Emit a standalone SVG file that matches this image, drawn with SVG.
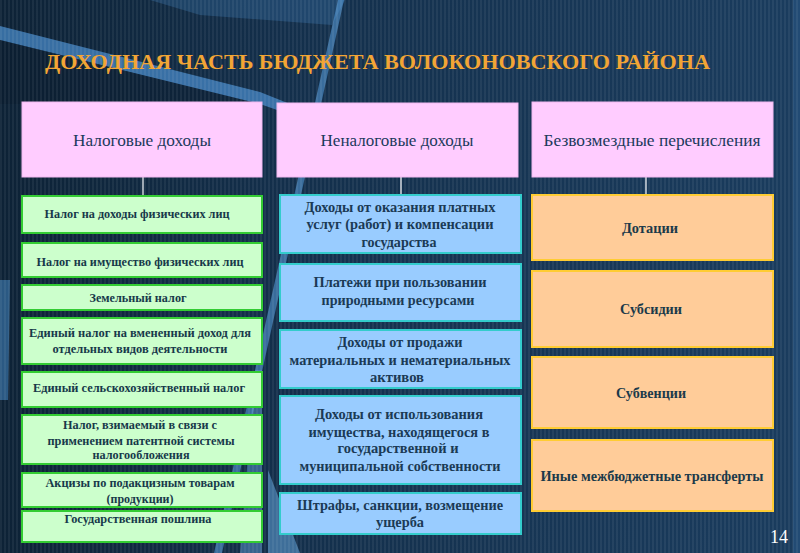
<svg xmlns="http://www.w3.org/2000/svg" width="800" height="553" viewBox="0 0 800 553">
<defs>
<pattern id="stripes" width="4" height="4" patternUnits="userSpaceOnUse">
<rect x="0" y="0" width="2" height="4" fill="#ffffff" opacity="0.06"/>
</pattern>
<linearGradient id="bgGrad" x1="0" y1="0" x2="1" y2="0">
<stop offset="0" stop-color="#0d2236"/>
<stop offset="0.35" stop-color="#132f4b"/>
<stop offset="1" stop-color="#1a3c5e"/>
</linearGradient>
<style>
.hdr{fill:#ffccff;stroke:#f0b8f0;stroke-width:1}
.grn{fill:#ccffcc;stroke:#33cc33;stroke-width:2}
.blu{fill:#99ccff;stroke:#33cccc;stroke-width:2}
.org{fill:#ffcc99;stroke:#ffcc33;stroke-width:2}
.ht{font-family:"Liberation Serif",serif;font-size:16px;fill:#1b3a5c;text-anchor:middle}
.gt{font-family:"Liberation Serif",serif;font-weight:bold;font-size:12.5px;fill:#17394a;text-anchor:middle}
.bt{font-family:"Liberation Serif",serif;font-weight:bold;font-size:14px;fill:#1b3a55;text-anchor:middle}
.ot{font-family:"Liberation Serif",serif;font-weight:bold;font-size:14.5px;fill:#1b3a4a;text-anchor:middle}
.conn{stroke:#ffffff;stroke-width:1.2}
</style>
</defs>
<g id="background">
<rect width="800" height="553" fill="url(#bgGrad)"/>
<polygon points="150,0 345,0 332,25 200,15" fill="#3f7fb8" opacity="0.3"/>
<polygon points="0,26 0,40 260,104 300,118 300,108 260,92" fill="#4a8ed0" opacity="0.7"/>
<polygon points="0,40 260,104 0,104" fill="#0a1a2a" opacity="0.4"/>
<polygon points="338,0 344,0 222,553 214,553" fill="#5aa0e0" opacity="0.55"/>
<polygon points="268,470 300,553 268,553" fill="#6aaee8" opacity="0.5"/>
<polygon points="0,280 10,280 8,400 0,400" fill="#3f7fb8" opacity="0.6"/>
<polygon points="255,370 262,370 262,553 240,553" fill="#5a98d0" opacity="0.5"/>
<rect x="793" y="0" width="7" height="553" fill="#2a5a8a" opacity="0.5"/>
<rect width="800" height="553" fill="url(#stripes)"/>
</g>
<g id="title">
<text x="45" y="69" font-family="Liberation Serif,serif" font-weight="bold" font-size="22" fill="#f2a535" textLength="665" lengthAdjust="spacingAndGlyphs">ДОХОДНАЯ ЧАСТЬ БЮДЖЕТА ВОЛОКОНОВСКОГО РАЙОНА</text>
</g>
<g id="connectors">
<line class="conn" x1="143" y1="177" x2="143" y2="195"/>
<line class="conn" x1="401" y1="177" x2="401" y2="195"/>
<line class="conn" x1="646" y1="177" x2="646" y2="195"/>
</g>
<g id="h-tax"><rect class="hdr" x="22" y="102" width="240" height="75"/><text class="ht" x="142" y="146" textLength="138" lengthAdjust="spacingAndGlyphs">Налоговые доходы</text></g>
<g id="h-nontax"><rect class="hdr" x="277" y="103" width="241" height="74"/><text class="ht" x="397" y="146" textLength="153" lengthAdjust="spacingAndGlyphs">Неналоговые доходы</text></g>
<g id="h-free"><rect class="hdr" x="532" y="102" width="241" height="75"/><text class="ht" x="652" y="146" textLength="217" lengthAdjust="spacingAndGlyphs">Безвозмездные перечисления</text></g>

<g id="t1"><rect class="grn" x="22" y="196" width="240" height="37"/><text class="gt" x="137" y="218" textLength="185" lengthAdjust="spacingAndGlyphs">Налог на доходы физических лиц</text></g>
<g id="t2"><rect class="grn" x="22" y="243" width="240" height="34"/><text class="gt" x="140" y="266" textLength="207" lengthAdjust="spacingAndGlyphs">Налог на имущество физических лиц</text></g>
<g id="t3"><rect class="grn" x="22" y="285" width="240" height="25"/><text class="gt" x="138" y="302" textLength="97" lengthAdjust="spacingAndGlyphs">Земельный налог</text></g>
<g id="t4"><rect class="grn" x="22" y="318" width="240" height="46"/><text class="gt" x="140" y="337" textLength="222" lengthAdjust="spacingAndGlyphs">Единый налог на вмененный доход  для</text><text class="gt" x="140" y="353" textLength="175" lengthAdjust="spacingAndGlyphs">отдельных видов деятельности</text></g>
<g id="t5"><rect class="grn" x="22" y="372" width="240" height="35"/><text class="gt" x="139" y="392" textLength="212" lengthAdjust="spacingAndGlyphs">Единый сельскохозяйственный налог</text></g>
<g id="t6"><rect class="grn" x="22" y="415" width="240" height="49"/><text class="gt" x="140" y="429" textLength="154" lengthAdjust="spacingAndGlyphs">Налог, взимаемый в связи с</text><text class="gt" x="141" y="445" textLength="187" lengthAdjust="spacingAndGlyphs">применением патентной системы</text><text class="gt" x="141" y="459" textLength="97" lengthAdjust="spacingAndGlyphs">налогообложения</text></g>
<g id="t7"><rect class="grn" x="22" y="473" width="240" height="34"/><text class="gt" x="140" y="487" textLength="189" lengthAdjust="spacingAndGlyphs">Акцизы по подакцизным товарам</text><text class="gt" x="140" y="503" textLength="67" lengthAdjust="spacingAndGlyphs">(продукции)</text></g>
<g id="t8"><rect class="grn" x="22" y="511" width="240" height="31"/><text class="gt" x="138" y="523" textLength="147" lengthAdjust="spacingAndGlyphs">Государственная пошлина</text></g>

<g id="n1"><rect class="blu" x="280" y="195" width="241" height="58"/><text class="bt" x="400" y="212" textLength="191" lengthAdjust="spacingAndGlyphs">Доходы от оказания платных</text><text class="bt" x="400" y="229" textLength="187" lengthAdjust="spacingAndGlyphs">услуг (работ) и компенсации</text><text class="bt" x="399" y="247" textLength="75" lengthAdjust="spacingAndGlyphs">государства</text></g>
<g id="n2"><rect class="blu" x="280" y="264" width="241" height="57"/><text class="bt" x="400" y="287" textLength="173" lengthAdjust="spacingAndGlyphs">Платежи при пользовании</text><text class="bt" x="398" y="305" textLength="153" lengthAdjust="spacingAndGlyphs">природными ресурсами</text></g>
<g id="n3"><rect class="blu" x="280" y="330" width="241" height="58"/><text class="bt" x="400" y="347" textLength="125" lengthAdjust="spacingAndGlyphs">Доходы от продажи</text><text class="bt" x="400" y="365" textLength="221" lengthAdjust="spacingAndGlyphs">материальных и нематериальных</text><text class="bt" x="397" y="382" textLength="54" lengthAdjust="spacingAndGlyphs">активов</text></g>
<g id="n4"><rect class="blu" x="280" y="396" width="241" height="88"/><text class="bt" x="399" y="419" textLength="168" lengthAdjust="spacingAndGlyphs">Доходы от использования</text><text class="bt" x="399" y="437" textLength="181" lengthAdjust="spacingAndGlyphs">имущества, находящегося в</text><text class="bt" x="398" y="453" textLength="121" lengthAdjust="spacingAndGlyphs">государственной и</text><text class="bt" x="400" y="471" textLength="201" lengthAdjust="spacingAndGlyphs">муниципальной собственности</text></g>
<g id="n5"><rect class="blu" x="280" y="493" width="241" height="41"/><text class="bt" x="400" y="510" textLength="206" lengthAdjust="spacingAndGlyphs">Штрафы, санкции, возмещение</text><text class="bt" x="400" y="527" textLength="48" lengthAdjust="spacingAndGlyphs">ущерба</text></g>

<g id="f1"><rect class="org" x="532" y="195" width="241" height="65"/><text class="ot" x="650" y="233" textLength="56" lengthAdjust="spacingAndGlyphs">Дотации</text></g>
<g id="f2"><rect class="org" x="532" y="271" width="241" height="76"/><text class="ot" x="651" y="314" textLength="62" lengthAdjust="spacingAndGlyphs">Субсидии</text></g>
<g id="f3"><rect class="org" x="532" y="357" width="241" height="71"/><text class="ot" x="651" y="398" textLength="70" lengthAdjust="spacingAndGlyphs">Субвенции</text></g>
<g id="f4"><rect class="org" x="532" y="440" width="241" height="71"/><text class="ot" x="652" y="481" textLength="223" lengthAdjust="spacingAndGlyphs">Иные межбюджетные трансферты</text></g>

<g id="page"><text x="779" y="543" font-family="Liberation Serif,serif" font-size="18" fill="#ffffff" text-anchor="middle">14</text></g>
</svg>
